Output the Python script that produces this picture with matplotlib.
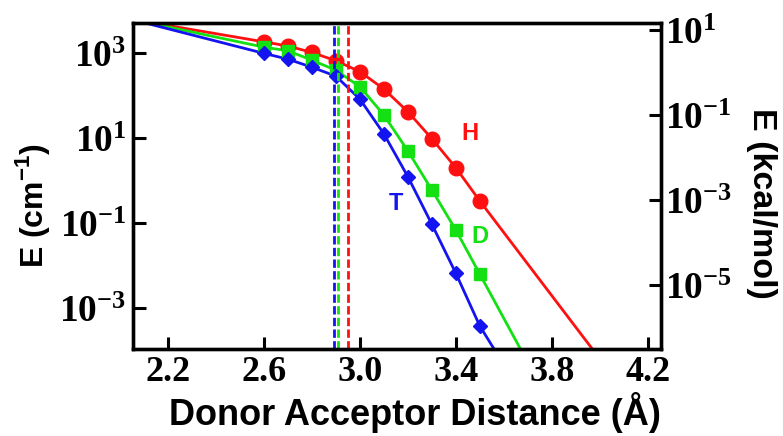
import numpy as np
import matplotlib.pyplot as plt
from matplotlib.ticker import FixedLocator, FuncFormatter, NullLocator

plt.rcParams['mathtext.fontset'] = 'custom'
plt.rcParams['mathtext.rm'] = 'Liberation Serif:bold'
plt.rcParams['mathtext.bf'] = 'Liberation Serif:bold'
plt.rcParams['mathtext.sf'] = 'Liberation Sans:bold'

# computed energies (cm^-1) at each donor-acceptor distance
dist = [2.6, 2.7, 2.8, 2.9, 3.0, 3.1, 3.2, 3.3, 3.4, 3.5]
E_H = [1870, 1490, 1050, 670, 370, 144, 42, 9.7, 2.0, 0.33]
E_D = [1400, 1150, 690, 400, 163, 35, 5.0, 0.6, 0.068, 0.0062]
E_T = [1000, 730, 470, 290, 83, 12.6, 1.23, 0.093, 0.0065, 3.7e-4]

# fitted curves (distance, energy) incl. the extrapolated ends
fit_H_x = [2.13, 2.6, 2.7, 2.8, 2.9, 3.0, 3.1, 3.2, 3.3, 3.4, 3.5, 3.97]
fit_H_y = [5300, 1870, 1490, 1050, 670, 370, 144, 42, 9.7, 2.0, 0.33, 1.05e-4]
fit_D_x = [2.115, 2.6, 2.7, 2.8, 2.9, 3.0, 3.1, 3.2, 3.3, 3.4, 3.5, 3.67]
fit_D_y = [5300, 1400, 1150, 690, 400, 163, 35, 5.0, 0.6, 0.068, 0.0062, 1.05e-4]
fit_T_x = [2.10, 2.6, 2.7, 2.8, 2.9, 3.0, 3.1, 3.2, 3.3, 3.4, 3.5, 3.56]
fit_T_y = [5300, 1000, 730, 470, 290, 83, 12.6, 1.23, 0.093, 0.0065, 3.7e-4, 1.05e-4]

# crossover distances
cross_T, cross_D, cross_H = 2.89, 2.91, 2.95

CM_PER_KCAL = 349.755
ylim = (1.05e-4, 5.3e3)

red, green, blue = '#ff1010', '#14e014', '#1414f0'

fig = plt.figure(figsize=(7.83, 4.36), dpi=100)
ax = fig.add_axes([0.170, 0.199, 0.674, 0.749])

ax.plot(fit_H_x, fit_H_y, color=red, lw=2)
ax.plot(fit_D_x, fit_D_y, color=green, lw=2)
ax.plot(fit_T_x, fit_T_y, color=blue, lw=2)
ax.plot(dist, E_H, 'o', color=red, ms=10.5)
ax.plot(dist, E_D, 's', color=green, ms=9)
ax.plot(dist, E_T, 'D', color=blue, ms=7)

for xc, c in [(cross_T, blue), (cross_D, green), (cross_H, red)]:
    ax.axvline(xc, color=c, lw=2, ls=(0, (3, 1.2)))

ax.text(3.46, 12.6, 'H', color=red, fontsize=17, fontweight='bold',
        family='Liberation Sans', ha='center', va='center')
ax.text(3.50, 0.049, 'D', color=green, fontsize=17, fontweight='bold',
        family='Liberation Sans', ha='center', va='center')
ax.text(3.15, 0.28, 'T', color=blue, fontsize=17, fontweight='bold',
        family='Liberation Sans', ha='center', va='center')

ax.set_yscale('log')
ax.set_ylim(*ylim)
ax.set_xlim(2.054, 4.255)

pow_fmt = FuncFormatter(lambda v, p: r'$\mathbf{10^{%d}}$' % round(np.log10(v)))

ax.xaxis.set_major_locator(FixedLocator([2.2, 2.6, 3.0, 3.4, 3.8, 4.2]))
ax.xaxis.set_major_formatter(FuncFormatter(lambda v, p: '%.1f' % v))
ax.yaxis.set_major_locator(FixedLocator([1e3, 1e1, 1e-1, 1e-3]))
ax.yaxis.set_major_formatter(pow_fmt)
ax.yaxis.set_minor_locator(NullLocator())
ax.tick_params(direction='in', length=9, width=2.2, labelsize=27, pad=5)
for lbl in ax.get_xticklabels():
    lbl.set_family('Liberation Serif')
    lbl.set_fontweight('bold')
    lbl.set_fontsize(26)

# right axis in kcal/mol
ax2 = ax.twinx()
ax2.set_yscale('log')
ax2.set_ylim(ylim[0] / CM_PER_KCAL, ylim[1] / CM_PER_KCAL)
ax2.yaxis.set_major_locator(FixedLocator([1e1, 1e-1, 1e-3, 1e-5]))
ax2.yaxis.set_major_formatter(pow_fmt)
ax2.yaxis.set_minor_locator(NullLocator())
ax2.tick_params(direction='in', length=9, width=2.2, labelsize=27, pad=3)

for a in (ax, ax2):
    for s in a.spines.values():
        s.set_linewidth(2.4)

fig.text(415 / 783, 1 - 412 / 436, 'Donor Acceptor Distance (Å)', fontsize=26,
         fontweight='bold', family='Liberation Sans', ha='center', va='center')
fig.text(32 / 783, 1 - 205 / 436, r'E (cm$^{\mathsf{-1}}$)', fontsize=23,
         fontweight='bold', family='Liberation Sans', rotation=90,
         ha='center', va='center')
fig.text(762 / 783, 1 - 203 / 436, 'E (kcal/mol)', fontsize=24.5,
         fontweight='bold', family='Liberation Sans', rotation=-90,
         ha='center', va='center')

fig.savefig('out.png', dpi=100)
